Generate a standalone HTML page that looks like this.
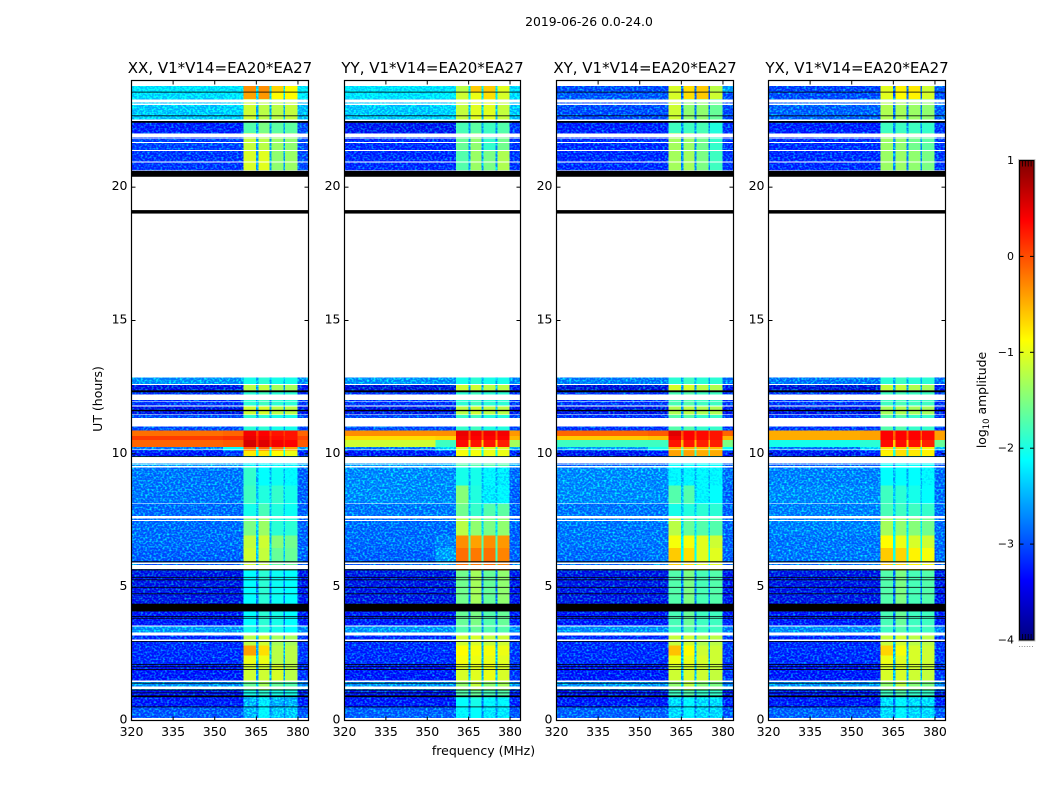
<!DOCTYPE html>
<html>
<head>
<meta charset="utf-8">
<title>2019-06-26 dynamic spectra</title>
<style>
html,body{margin:0;padding:0;background:#fff;width:1050px;height:800px;overflow:hidden}
svg{display:block}
text{font-family:"DejaVu Sans","Liberation Sans",sans-serif;fill:#000}
</style>
</head>
<body>
<svg id="chart" width="1050" height="800" viewBox="0 0 1050 800" xmlns="http://www.w3.org/2000/svg">
  <defs>
    <filter id="grain" x="0" y="0" width="100%" height="100%" color-interpolation-filters="sRGB">
      <feTurbulence type="fractalNoise" baseFrequency="0.46 0.56" numOctaves="1" seed="7" result="t"/>
      <feColorMatrix in="t" type="matrix" values="0 0 0 0 0  1.8 0 0 0 -0.78  0 0 0 0 0  0 0 0 0 1" result="g"/>
      <feComposite in="SourceGraphic" in2="g" operator="arithmetic" k1="0" k2="1" k3="1" k4="0" result="s"/>
      <feComposite in="s" in2="SourceAlpha" operator="in"/>
    </filter>
    <linearGradient id="jet-gradient" x1="0" y1="1" x2="0" y2="0"></linearGradient>
  </defs>
  <text x="589" y="26" font-size="12.4" text-anchor="middle">2019-06-26 0.0-24.0</text>
  <text x="0" y="0" font-size="12.5" text-anchor="middle" transform="translate(102 399) rotate(-90)">UT (hours)</text>
  <text x="483.5" y="755" font-size="12.5" text-anchor="middle">frequency (MHz)</text>
  <g id="panels"></g>
  <g id="colorbar"></g>
  <text x="0" y="0" font-size="12.4" text-anchor="middle" transform="translate(986 400) rotate(-90)">log<tspan font-size="8.5" dy="3">10</tspan><tspan dy="-3"> amplitude</tspan></text>
</svg>
<script>
// ---- data -------------------------------------------------------------
const panelTitles = ["XX, V1*V14=EA20*EA27", "YY, V1*V14=EA20*EA27", "XY, V1*V14=EA20*EA27", "YX, V1*V14=EA20*EA27"];
const xTickLabels = [320, 335, 350, 365, 380];
const yTickLabels = [0, 5, 10, 15, 20];
const colorTickLabels = [-4, -3, -2, -1, 0, 1];
// frequency columns, MHz: background, near-band, ch1, gap, ch2, gap, ch3, gap, ch4, right edge
const columnEdges = [320, 353, 360.4, 364.9, 365.7, 369.7, 370.4, 374.8, 375.4, 379.8, 383.8];
const columnSource = [0, 1, 2, 6, 3, 6, 4, 6, 5, 7];
// time bands, hours
const rowBottom = [0, .49, .86, 1.13, 1.46, 2.10, 2.44, 2.81, 3.19, 3.53, 4.39, 5.63, 6.46, 6.94, 7.66, 8.14, 8.82, 9.49, 9.91, 10.13, 10.25, 10.51, 10.66, 10.88, 11.45, 11.78, 12.38, 12.61, 20.60, 21.39, 22.03, 22.44, 23.30, 23.57];
const rowTop = [.49, .86, 1.13, 1.46, 2.10, 2.44, 2.81, 3.19, 3.53, 4.39, 5.63, 6.46, 6.94, 7.66, 8.14, 8.82, 9.49, 9.91, 10.13, 10.25, 10.51, 10.66, 10.88, 11.45, 11.78, 12.38, 12.61, 12.87, 21.39, 22.03, 22.44, 23.30, 23.57, 23.79];
// log10 amplitude per band: [bg, near, ch1, ch2, ch3, ch4, gap, right]
const levelsXX = [
[-2.95,-2.95,-2.5,-2.1,-2.4,-2.4,-2.7,-2.95],[-3.25,-3.25,-2.5,-2.2,-2.5,-2.5,-2.8,-3.2],[-3.25,-3.25,-1.9,-1.8,-1.9,-1.9,-2.8,-3.2],[-2.65,-2.65,-1.5,-1.2,-1.5,-1.6,-2.3,-2.7],
[-3.25,-3.25,-1.0,-1.0,-.95,-1.1,-2.6,-3.1],[-3.15,-3.15,-.85,-.85,-1.1,-1.1,-2.5,-3.1],[-3.15,-3.15,-.3,-.6,-1.1,-1.1,-2.5,-3.1],[-3.15,-3.15,-1.1,-1.0,-1.2,-1.2,-2.6,-3.1],
[-2.65,-2.65,-1.9,-1.8,-1.9,-2.0,-2.6,-2.7],[-3.25,-3.25,-2.0,-1.8,-1.9,-2.0,-2.8,-3.2],[-3.35,-3.35,-2.0,-1.8,-1.95,-2.0,-2.8,-3.3],[-2.9,-2.9,-1.0,-1.05,-1.5,-1.5,-2.4,-2.9],
[-2.85,-2.85,-1.05,-1.0,-1.35,-1.45,-2.4,-2.9],[-2.85,-2.85,-1.4,-1.25,-1.8,-1.8,-2.4,-2.9],[-2.85,-2.85,-1.9,-1.65,-1.85,-1.95,-2.4,-2.9],[-2.8,-2.8,-1.7,-1.85,-1.75,-1.9,-2.4,-2.9],
[-2.8,-2.8,-1.75,-2.0,-1.95,-2.05,-2.5,-2.9],[-2.6,-2.6,-2.1,-2.1,-2.1,-2.1,-2.6,-2.6],[-3.25,-3.1,-.65,-.65,-.75,-.85,-1.9,-3.2],[-2.8,-2.0,0,0,-.1,-.3,-1.9,-2.6],
[0,.05,.7,.65,.55,.5,.3,.05],[.2,.25,.6,.55,.45,.4,.3,.15],[-.05,0,.55,.5,.4,.4,.2,0],[-3.0,-3.0,-1.8,-1.8,-1.9,-1.9,-2.6,-3.0],
[-3.35,-3.35,-1.0,-.95,-1.1,-1.1,-2.6,-3.3],[-3.1,-3.1,-1.8,-1.7,-1.8,-1.8,-2.6,-3.1],[-3.35,-3.35,-1.1,-1.05,-1.2,-1.2,-2.6,-3.3],[-2.65,-2.65,-1.9,-1.8,-1.9,-1.9,-2.5,-2.7],
[-3.1,-3.1,-.95,-.9,-1.3,-1.25,-2.6,-3.0],[-3.05,-3.05,-1.05,-1.1,-1.25,-1.3,-2.6,-3.0],[-3.2,-3.2,-1.6,-1.4,-1.55,-1.55,-2.6,-3.0],[-2.4,-2.35,-1.0,-1.1,-1.1,-1.05,-2.5,-2.45],
[-2.3,-2.25,-.3,-.25,-.75,-.75,-2.3,-2.2],[-2.25,-2.25,-.2,-.2,-.55,-.75,-2.3,-2.2]];
const levelsYY = [
[-2.9,-2.9,-2.1,-2.0,-2.2,-2.2,-2.7,-2.95],[-3.25,-3.25,-2.0,-1.9,-2.1,-2.1,-2.8,-3.2],[-3.25,-3.25,-1.6,-1.5,-1.65,-1.6,-2.8,-3.2],[-2.65,-2.65,-1.3,-1.05,-1.3,-1.2,-2.3,-2.7],
[-3.25,-3.25,-.95,-.9,-.85,-.95,-2.5,-3.1],[-3.15,-3.15,-.8,-.85,-.85,-.9,-2.5,-3.1],[-3.15,-3.15,-.75,-.8,-.8,-.85,-2.5,-3.1],[-3.15,-3.15,-1.0,-.95,-1.05,-1.0,-2.6,-3.1],
[-2.65,-2.65,-1.6,-1.5,-1.6,-1.6,-2.6,-2.7],[-3.25,-3.25,-1.5,-1.4,-1.6,-1.5,-2.8,-3.2],[-3.35,-3.35,-1.45,-1.2,-1.5,-1.3,-2.8,-3.3],[-2.9,-2.6,-.05,-.1,-.05,-.15,-1.7,-2.9],
[-2.85,-2.75,-.2,-.3,-.2,-.25,-1.6,-2.9],[-2.85,-2.85,-1.1,-1.3,-1.4,-1.3,-2.3,-2.9],[-2.8,-2.8,-1.45,-1.75,-1.6,-1.55,-2.4,-2.9],[-2.7,-2.7,-1.35,-1.85,-2.2,-2.1,-2.4,-2.9],
[-2.7,-2.7,-1.9,-1.9,-2.1,-2.2,-2.5,-2.85],[-2.6,-2.6,-1.6,-1.6,-1.6,-1.6,-2.4,-2.6],[-3.25,-3.1,-.8,-.8,-.85,-.85,-1.9,-3.2],[-2.8,-2.3,-.9,-.9,-.9,-.9,-1.9,-2.5],
[-1.0,-1.7,.45,.4,.4,.35,-.5,-1.2],[-.6,-.55,.55,.5,.5,.5,.1,-.4],[-.2,-.2,.6,.55,.55,.55,.1,-.25],[-3.0,-3.0,-1.75,-1.7,-1.85,-1.85,-2.6,-3.0],
[-3.35,-3.35,-1.1,-1.0,-1.1,-1.1,-2.6,-3.3],[-3.1,-3.1,-1.8,-1.7,-1.8,-1.8,-2.6,-3.1],[-3.4,-3.4,-1.0,-1.0,-1.1,-1.1,-2.6,-3.3],[-2.65,-2.65,-1.9,-1.8,-1.9,-1.9,-2.5,-2.7],
[-3.15,-3.15,-1.6,-1.25,-1.4,-1.15,-2.6,-3.1],[-3.15,-3.15,-1.5,-1.3,-1.75,-1.45,-2.6,-3.1],[-3.3,-3.3,-1.65,-1.55,-1.7,-1.6,-2.6,-3.1],[-2.4,-2.35,-1.05,-.9,-.9,-1.05,-2.4,-2.4],
[-2.25,-2.2,-1.0,-.85,-.6,-.95,-2.2,-2.3],[-2.25,-2.25,-1.1,-.5,-.5,-.9,-2.2,-2.3]];
const levelsXY = [
[-2.9,-2.9,-2.3,-2.1,-2.3,-2.3,-2.7,-2.95],[-3.25,-3.25,-2.3,-2.1,-2.3,-2.3,-2.8,-3.2],[-3.25,-3.25,-1.7,-1.6,-1.75,-1.75,-2.8,-3.2],[-2.65,-2.65,-1.3,-1.1,-1.35,-1.4,-2.3,-2.7],
[-3.25,-3.25,-1.0,-.95,-1.0,-1.05,-2.5,-3.1],[-3.15,-3.15,-.85,-.85,-.95,-1.0,-2.5,-3.1],[-3.15,-3.15,-.45,-.75,-1.0,-1.0,-2.5,-3.1],[-3.15,-3.15,-1.05,-1.0,-1.15,-1.1,-2.6,-3.1],
[-2.7,-2.7,-1.7,-1.6,-1.7,-1.7,-2.6,-2.75],[-3.25,-3.25,-1.65,-1.5,-1.7,-1.7,-2.8,-3.2],[-3.35,-3.35,-1.6,-1.4,-1.65,-1.6,-2.8,-3.3],[-2.85,-2.8,-.5,-.6,-.9,-.9,-2.0,-2.9],
[-2.8,-2.8,-.8,-.8,-.9,-1.0,-2.1,-2.9],[-2.8,-2.8,-1.1,-1.5,-1.6,-1.6,-2.3,-2.9],[-2.8,-2.8,-1.9,-1.85,-1.8,-1.8,-2.4,-2.9],[-2.7,-2.7,-1.6,-1.6,-2.1,-2.0,-2.4,-2.9],
[-2.7,-2.7,-2.1,-2.1,-2.1,-2.1,-2.5,-2.85],[-2.9,-2.9,-2.0,-2.0,-2.0,-2.0,-2.6,-2.9],[-3.3,-3.2,-.3,-.3,-.35,-.35,-1.7,-3.2],[-2.6,-1.9,-.4,-.4,-.45,-.45,-1.5,-2.0],
[-1.7,-1.7,.4,.4,.35,.35,-.4,-1.4],[-.5,-.45,.55,.5,.45,.4,.05,-.4],[0,.05,.65,.5,.45,.4,.1,0],[-3.1,-3.1,-1.6,-1.6,-1.75,-1.75,-2.6,-3.1],
[-3.35,-3.35,-1.15,-1.1,-1.15,-1.15,-2.6,-3.3],[-3.1,-3.1,-1.65,-1.6,-1.7,-1.7,-2.6,-3.1],[-3.4,-3.4,-.95,-.95,-1.1,-1.15,-2.6,-3.3],[-2.75,-2.75,-1.8,-1.7,-1.8,-1.8,-2.5,-2.8],
[-3.15,-3.15,-1.2,-1.2,-1.4,-1.7,-2.7,-3.1],[-3.15,-3.15,-1.2,-1.25,-1.45,-1.75,-2.7,-3.1],[-3.2,-3.2,-1.7,-1.7,-1.65,-1.85,-2.7,-3.1],[-3.0,-3.0,-1.0,-1.3,-1.3,-1.5,-2.8,-3.0],
[-2.95,-2.95,-.95,-.6,-.5,-1.0,-2.9,-3.0],[-3.0,-3.0,-.95,-.6,-.5,-1.1,-2.9,-2.6]];
const levelsYX = [
[-2.9,-2.9,-2.3,-2.1,-2.3,-2.3,-2.7,-2.95],[-3.25,-3.25,-2.3,-2.1,-2.3,-2.3,-2.8,-3.2],[-3.25,-3.25,-1.7,-1.6,-1.75,-1.75,-2.8,-3.2],[-2.65,-2.65,-1.3,-1.1,-1.35,-1.4,-2.3,-2.7],
[-3.25,-3.25,-.95,-.95,-1.0,-1.05,-2.5,-3.1],[-3.15,-3.15,-.85,-.9,-.95,-1.0,-2.5,-3.1],[-3.15,-3.15,-.55,-.8,-.95,-1.0,-2.5,-3.1],[-3.15,-3.15,-1.05,-1.0,-1.1,-1.1,-2.6,-3.1],
[-2.7,-2.7,-1.7,-1.6,-1.7,-1.7,-2.6,-2.75],[-3.25,-3.25,-1.65,-1.5,-1.7,-1.7,-2.8,-3.2],[-3.35,-3.35,-1.6,-1.4,-1.65,-1.6,-2.8,-3.3],[-2.8,-2.8,-.5,-.55,-.7,-.8,-1.9,-2.85],
[-2.8,-2.8,-.75,-.85,-.95,-1.0,-2.0,-2.85],[-2.75,-2.75,-1.2,-1.3,-1.35,-1.45,-2.2,-2.85],[-2.75,-2.75,-1.65,-1.7,-1.7,-1.75,-2.4,-2.85],[-2.7,-2.7,-1.7,-1.8,-1.9,-2.0,-2.4,-2.85],
[-2.75,-2.75,-2.0,-2.0,-2.0,-2.1,-2.5,-2.85],[-2.9,-2.9,-2.0,-2.0,-2.0,-2.0,-2.6,-2.9],[-3.3,-3.2,-.7,-.6,-.65,-.7,-1.8,-3.2],[-2.8,-2.3,-.6,-.55,-.6,-.7,-1.8,-2.4],
[-1.9,-1.8,.45,.45,.4,.35,-.5,-1.5],[-.35,-.3,.5,.5,.5,.45,.05,-.3],[-.35,-.3,.5,.5,.5,.45,0,-.3],[-3.1,-3.1,-1.6,-1.6,-1.75,-1.75,-2.6,-3.1],
[-3.35,-3.35,-1.2,-1.15,-1.2,-1.2,-2.6,-3.3],[-3.1,-3.1,-1.7,-1.65,-1.7,-1.7,-2.6,-3.1],[-3.4,-3.4,-1.05,-1.05,-1.15,-1.2,-2.6,-3.3],[-2.8,-2.8,-1.8,-1.7,-1.8,-1.8,-2.5,-2.85],
[-3.15,-3.15,-1.25,-1.25,-1.3,-1.4,-2.7,-3.1],[-3.15,-3.15,-1.25,-1.3,-1.45,-1.55,-2.7,-3.1],[-3.2,-3.2,-1.7,-1.7,-1.7,-1.75,-2.7,-3.1],[-2.9,-2.9,-1.15,-1.2,-1.25,-1.3,-2.8,-2.9],
[-3.0,-3.0,-.9,-.75,-.7,-.95,-2.9,-3.0],[-3.05,-3.05,-.9,-.7,-.65,-1.0,-2.9,-2.9]];
const panelLevels = [levelsXX, levelsYY, levelsXY, levelsYX];
// flagged time ranges (hours): blank (white) and zero-valued (black)
const blankStart = [23.79,23.167,23.09,22.53,22.49,21.869,21.805,21.65,21.355,20.92,20.62,12.86,12.58,12.22,12.01,11.97,11.78,11.45,11.03,10.145,9.63,9.58,9.48,8.11,7.58,7.48,5.87,5.68,3.53,3.19,2.976,1.44,1.175,0];
const blankEnd = [24,23.287,23.137,22.555,22.52,22.018,21.823,21.69,21.39,20.96,20.64,20.39,12.61,12.25,12.2,11.99,11.81,11.47,11.345,10.17,9.88,9.6,9.54,8.14,7.66,7.52,5.92,5.83,3.565,3.30,3.04,1.50,1.28,.094];
const flaggedStart = [23.555,22.67,22.416,20.39,19.01,12.31,11.6,9.88,5.93,5.63,5.37,5.265,4.99,4.74,4.09,3.90,3.83,2.95,2.09,2.0,1.90,1.39,1.126,1.025,.875,.5];
const flaggedEnd = [23.58,22.69,22.48,20.61,19.14,12.38,11.65,9.91,5.97,5.67,5.385,5.29,5.01,4.766,4.38,3.92,3.85,2.976,2.12,2.03,1.925,1.415,1.16,1.05,.94,.525];

// ---- layout -----------------------------------------------------------
const NS = "http://www.w3.org/2000/svg";
const plotTop = 80.5, plotBottom = 720.5;
const freqMin = 320, freqMax = 383.8, hourMin = 0, hourMax = 24;
const leftEdge = [131.5, 344.5, 556.5, 768.5];
const rightEdge = [308.5, 520.5, 733.5, 945.5];
// the grain filter lifts the green channel of faint cells, so they are drawn slightly lower
const grainOffset = -0.15, signalOffset = -0.12;
function xScale(p, f) { return leftEdge[p] + (f - freqMin) / (freqMax - freqMin) * (rightEdge[p] - leftEdge[p]); }
function yScale(h) { return plotBottom - (h - hourMin) / (hourMax - hourMin) * (plotBottom - plotTop); }
function clamp(v) { return Math.max(0, Math.min(1, v)); }
function jet(t) {
  const r = clamp(Math.min(4 * t - 1.5, -4 * t + 4.5));
  const g = clamp(Math.min(4 * t - 0.5, -4 * t + 3.5));
  const b = clamp(Math.min(4 * t + 0.5, -4 * t + 2.5));
  return "rgb(" + Math.round(r * 255) + "," + Math.round(g * 255) + "," + Math.round(b * 255) + ")";
}
function colorFor(level) { return jet((level + 4) / 5); }
function make(tag, attrs, parent) {
  const el = document.createElementNS(NS, tag);
  for (const k in attrs) el.setAttribute(k, attrs[k]);
  parent.appendChild(el);
  return el;
}

const panelsRoot = document.getElementById("panels");
panelTitles.forEach(function (title, p) {
  const panel = make("g", {}, panelsRoot);
  
  

  const noisy = make("g", { filter: "url(#grain)", "shape-rendering": "crispEdges" }, panel);
  
  
  const clean = make("g", { "shape-rendering": "crispEdges" }, panel);
  
  

  panelLevels[p].forEach(function (row, r) {
    const yTop = yScale(rowTop[r]), yBot = yScale(rowBottom[r]);
    columnSource.forEach(function (src, c) {
      const x0 = xScale(p, columnEdges[c]), x1 = xScale(p, columnEdges[c + 1]);
      const level = row[src];
      const faint = level < -2;
      const cell = make("rect", { x: x0, y: yTop, width: x1 - x0, height: yBot - yTop, fill: colorFor(level + (faint ? grainOffset : signalOffset)) }, faint ? noisy : clean);
      
      
    });
  });

  const x0 = leftEdge[p], w = rightEdge[p] - leftEdge[p];
  blankStart.forEach(function (start, i) {
    const mask = make("rect", { x: x0, y: yScale(blankEnd[i]), width: w, height: yScale(start) - yScale(blankEnd[i]), fill: "#fff", "shape-rendering": "crispEdges" }, panel);
    
    
  });
  flaggedStart.forEach(function (start, i) {
    const mask = make("rect", { x: x0, y: yScale(flaggedEnd[i]), width: w, height: Math.max(0.8, yScale(start) - yScale(flaggedEnd[i])), fill: "#000" }, panel);
    
    
  });

  const frame = make("rect", { x: x0, y: plotTop, width: w, height: plotBottom - plotTop, fill: "none", stroke: "#000", "stroke-width": 1.2 }, panel);
  
  

  const heading = make("text", { x: x0 + w / 2, y: 73, "font-size": 15, "text-anchor": "middle" }, panel);
  heading.textContent = title;
  
  

  xTickLabels.forEach(function (f) {
    const x = xScale(p, f);
    [[plotBottom, plotBottom - 4], [plotTop, plotTop + 4]].forEach(function (pair) {
      const tick = make("line", { x1: x, x2: x, y1: pair[0], y2: pair[1], stroke: "#000", "stroke-width": 1 }, panel);
      
      
    });
    const label = make("text", { x: x, y: 736, "font-size": 12.5, "text-anchor": "middle" }, panel);
    label.textContent = f;
    
    
  });
  yTickLabels.forEach(function (h) {
    const y = yScale(h);
    [[x0, x0 + 4], [x0 + w, x0 + w - 4]].forEach(function (pair) {
      const tick = make("line", { x1: pair[0], x2: pair[1], y1: y, y2: y, stroke: "#000", "stroke-width": 1 }, panel);
      
      
    });
    const label = make("text", { x: x0 - 4, y: y + 3, "font-size": 12.5, "text-anchor": "end" }, panel);
    label.textContent = h;
    
    
  });
});

// ---- colorbar ---------------------------------------------------------
const grad = document.getElementById("jet-gradient");
for (let i = 0; i <= 32; i++) {
  make("stop", { offset: i / 32, "stop-color": jet(i / 32) }, grad);
}
const cbRoot = document.getElementById("colorbar");
const cbLeft = 1019.5, cbRight = 1034, cbTop = 160.5, cbBottom = 640;
function cbScale(v) { return cbBottom - (v + 4) / 5 * (cbBottom - cbTop); }
const cbBody = make("rect", { x: cbLeft, y: cbTop, width: cbRight - cbLeft, height: cbBottom - cbTop, fill: "url(#jet-gradient)", stroke: "#000", "stroke-width": 1.2 }, cbRoot);


const cbOutline = make("rect", { x: cbLeft - 1, y: cbTop - 1, width: cbRight - cbLeft + 2, height: cbBottom - cbTop + 2, fill: "none", stroke: "#bbb", "stroke-width": 0.8 }, cbRoot);


colorTickLabels.forEach(function (v) {
  const y = cbScale(v);
  [[cbLeft, cbLeft + 4], [cbRight, cbRight - 4]].forEach(function (pair) {
    const tick = make("line", { x1: pair[0], x2: pair[1], y1: y, y2: y, stroke: "#000", "stroke-width": 1 }, cbRoot);
    
    
  });
  const label = make("text", { x: 1014, y: y + 3.5, "font-size": 11, "text-anchor": "end" }, cbRoot);
  label.textContent = v < 0 ? "\u2212" + Math.abs(v) : String(v);
  
  
});
for (let i = 1; i < 5; i++) {
  const top = make("line", { x1: cbLeft + i * 2.9, x2: cbLeft + i * 2.9, y1: cbTop, y2: cbTop + 6, stroke: "#000", "stroke-width": 0.8 }, cbRoot);
  
  
  const bottom = make("line", { x1: cbLeft + i * 2.9, x2: cbLeft + i * 2.9, y1: cbBottom, y2: cbBottom - 6, stroke: "#000", "stroke-width": 0.8 }, cbRoot);
  
  
}
const dots = make("text", { x: 1026, y: 647, "font-size": 8, "text-anchor": "middle", style: "fill:#777" }, cbRoot);
dots.textContent = "......";


</script>
</body>
</html>
